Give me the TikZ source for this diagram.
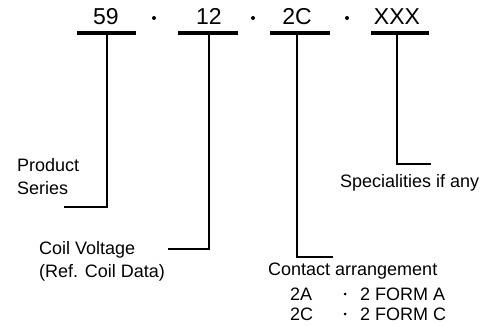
\documentclass[tikz,border=0pt]{standalone}
\usepackage{fontspec}
\setmainfont{Liberation Sans}
\begin{document}
\begin{tikzpicture}[x=1pt,y=-1pt,
  code/.style={inner sep=0pt,anchor=base,font=\fontsize{23}{23}\selectfont},
  lbl/.style={inner sep=0pt,anchor=base west,font=\fontsize{18}{18}\selectfont},
  bar/.style={line width=3.5pt},
  lead/.style={line width=2.6pt,line cap=rect},
  sep/.style={circle,fill=black,inner sep=0pt,minimum size=4pt}]
\useasboundingbox (0,0) rectangle (501,326);
% code fields
\node[code] (n59) at (106,25) {59};
\node[code] (n12) at (209,25) {12};
\node[code] (n2c) at (297,25) {2C};
\node[code] (nxx) at (397,25) {XXX};
\node[sep] (d1) at (154,18) {};
\node[sep] (d2) at (253,18) {};
\node[sep] (d3) at (347,18) {};
% bars
\coordinate (b1l) at (77,33); \coordinate (b1r) at (136,33);
\coordinate (b2l) at (178,33); \coordinate (b2r) at (238,33);
\coordinate (b3l) at (270,33); \coordinate (b3r) at (330,33);
\coordinate (b4l) at (371,33); \coordinate (b4r) at (429,33);
\draw[bar] (b1l) -- (b1r);
\draw[bar] (b2l) -- (b2r);
\draw[bar] (b3l) -- (b3r);
\draw[bar] (b4l) -- (b4r);
% leader corners
\coordinate (t1) at (107,33); \coordinate (c1) at (107,207); \coordinate (e1) at (65,207);
\coordinate (t2) at (209,33); \coordinate (c2) at (209,249); \coordinate (e2) at (169,249);
\coordinate (t3) at (297,33); \coordinate (c3) at (297,257); \coordinate (e3) at (332,257);
\coordinate (t4) at (397,33); \coordinate (c4) at (397,164); \coordinate (e4) at (430,164);
\draw[lead] (t1) -- (c1) -- (e1);
\draw[lead] (t2) -- (c2) -- (e2);
\draw[lead] (t3) -- (c3) -- (e3);
\draw[lead] (t4) -- (c4) -- (e4);
% labels
\node[lbl] (ps1) at (17,172) {Product};
\node[lbl] (ps2) at (17,195) {Series};
\node[lbl] (cv1) at (39,254) {Coil Voltage};
\node[lbl] (cv2) at (39,277) {(Ref. Coil Data)};
\node[lbl] (sp) at (340,188) {Specialities if any};
\node[lbl] (ca) at (268,275) {Contact arrangement};
\node[lbl] (a1) at (290,300) {2A};
\node[lbl] (a2) at (290,320) {2C};
\node[sep,minimum size=3pt] (a1d) at (345,294) {};
\node[sep,minimum size=3pt] (a2d) at (345,314) {};
\node[lbl] (a1f) at (360,300) {2 FORM A};
\node[lbl] (a2f) at (360,320) {2 FORM C};
\end{tikzpicture}
\end{document}
